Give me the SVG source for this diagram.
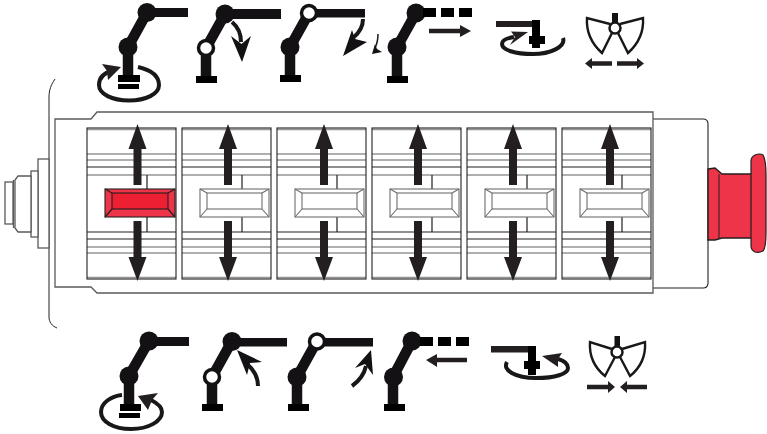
<svg xmlns="http://www.w3.org/2000/svg" width="767" height="434" viewBox="0 0 767 434">
<style>
.k{fill:#131114}
.b{fill:#000}
.lk{stroke:#131114;stroke-width:10.500;fill:none}
.j{fill:#fff;stroke:#131114;stroke-width:3.5}
.arc{fill:none;stroke:#1a1718;stroke-width:4}
.sa{fill:none;stroke:#231f20;stroke-width:4.5}
.ar{fill:#231f20}
.ol{fill:#fff;stroke:#58595b;stroke-width:1.3}
.ds{fill:none;stroke:#231f20;stroke-width:1.2}
.gr{fill:none;stroke:#939598;stroke-width:1.5}
.claw{fill:#fff;stroke:#1a1718;stroke-width:2.4;stroke-linejoin:miter}
.sw{fill:#fff;stroke:#6d6e71;stroke-width:1.1}
.swr{fill:#ee3448;stroke:#231f20;stroke-width:1.1}
.rb{fill:#ee3448;stroke:#231f20;stroke-width:1.4}
</style>
<defs>
<g id="mod">
<rect x="0" y="0" width="89" height="151" fill="#fff"/>
<path class="gr" d="M0 1.500H89M0 26H89M0 32H89M0 47H89M0 119H89M0 125H89M0 149.500H89"/>
<path class="ds" d="M0 39H89M0 104H89M0 111H89M60 47V61M60 89V104"/>
<rect x="0" y="0" width="89" height="151" fill="none" stroke="#231f20" stroke-width="1.1"/>
</g>
<g id="updown">
<path class="ar" d="M0 -4L9 21H4V57H-4V21H-9Z"/>
<path class="ar" d="M0 153L-9 129H-4V93H4V129H9Z"/>
</g>
<g id="sw">
<rect class="sw" x="0" y="0" width="69" height="28"/>
<rect class="sw" x="7" y="4" width="55" height="16"/>
<path class="sw" d="M0 0L7 4M69 0L62 4M0 28L7 20M69 28L62 20"/>
</g>
<g id="base"><rect class="b" x="-10.500" y="0" width="21" height="7"/></g>
</defs>

<g id="chassis">
<path d="M55 79C51 85 49 90 49 97V317C49 322 52 326 57 328" fill="none" stroke="#231f20" stroke-width="1"/>
<rect class="ol" x="38" y="159" width="11" height="89"/>
<rect class="ol" x="31" y="171" width="7" height="66" stroke="#231f20"/>
<path class="ol" d="M31 176H18L15 180V228L18 232H31Z"/>
<path class="ol" d="M13.500 180V228"/>
<rect class="ol" x="5" y="182" width="8" height="42"/>
<path d="M653 119H703Q708 119 708 124V283Q708 288 703 288H653" fill="#fff" stroke="#231f20" stroke-width="1.1"/>
<path class="ol" d="M55 119H91L97 112H653V293H97L91 287H55Z"/>
</g>

<g id="switch-1">
<use href="#mod" x="87" y="128"/>
<rect class="swr" x="105" y="189" width="70" height="28"/>
<rect x="112" y="193" width="56" height="16" fill="#ed1f33" stroke="#231f20" stroke-width="1.1"/>
<path class="ds" d="M105 189L112 193M175 189L168 193M105 217L112 209M175 217L168 209"/>
<use href="#updown" x="137.500" y="128"/>
</g>
<g id="switch-2"><use href="#mod" x="182" y="128"/><use href="#sw" x="200" y="189"/><use href="#updown" x="228" y="128"/></g>
<g id="switch-3"><use href="#mod" x="277" y="128"/><use href="#sw" x="295" y="189"/><use href="#updown" x="324" y="128"/></g>
<g id="switch-4"><use href="#mod" x="372" y="128"/><use href="#sw" x="390" y="189"/><use href="#updown" x="418" y="128"/></g>
<g id="switch-5"><use href="#mod" x="467" y="128"/><use href="#sw" x="485" y="189"/><use href="#updown" x="513" y="128"/></g>
<g id="switch-6"><use href="#mod" x="562" y="128"/><use href="#sw" x="580" y="189"/><use href="#updown" x="610" y="128"/></g>

<g id="estop">
<path class="rb" d="M708 169L715 168L722 174H752V238H722L715 240H708Z"/>
<path d="M719 174V238" fill="none" stroke="#231f20" stroke-width="1"/>
<path d="M751 161Q751 157 755 155Q760 153 763 155Q766 160 766 175V232Q766 248 763 251Q759 253 755 252Q751 250 751 246Z" fill="#ee3448" stroke="#231f20" stroke-width="1.200"/>
</g>

<g id="icon-top-1">
<path class="arc" d="M138 67C151 70 159 76 159 85C159 94 146 100.500 129 100.500C112 100.500 99 94 99 85C99 78 104 73 112 71"/>
<path class="ar" d="M121 67L102 64L107 71L108 80Z"/>
<path class="lk" d="M147 12.500L128 47V76"/>
<rect class="k" x="147" y="8" width="41" height="9"/>
<circle class="k" cx="147" cy="12.500" r="9.500"/><circle class="k" cx="128" cy="47" r="9.500"/>
<rect class="b" x="118" y="75" width="22" height="7"/><rect class="b" x="118" y="84" width="21" height="5"/>
</g>
<g id="icon-top-2">
<path class="lk" d="M225 14L206 48V76"/>
<rect class="k" x="225" y="9" width="56" height="10"/>
<circle class="k" cx="225" cy="14" r="9.500"/><circle class="j" cx="206" cy="48" r="7.500"/>
<use href="#base" x="206.500" y="76"/>
<path class="arc" d="M232 22C238 27 241 33 241 42"/>
<path class="k" d="M242 62L231 36L241.500 44L251 36Z"/>
</g>
<g id="icon-top-3">
<path class="lk" d="M309 13L290 47V76"/>
<rect class="k" x="309" y="9" width="56" height="8.500"/>
<circle class="j" cx="309" cy="13" r="7.500"/><circle class="k" cx="290" cy="47" r="9.500"/>
<use href="#base" x="290.500" y="75"/>
<path class="arc" d="M363 19C363 27 359 33 353 38"/>
<path class="k" d="M343 56L352 30L355 39L367 42Z"/>
<path d="M378 34C378 39 377 44 375 48" fill="none" stroke="#1a1718" stroke-width="1.500"/>
<path class="k" d="M372 54L375 44L377 49L382 52Z"/>
</g>
<g id="icon-top-4">
<path class="lk" d="M416 13L397 47V76"/>
<circle class="k" cx="416" cy="13" r="9.500"/><circle class="k" cx="397" cy="47" r="9.500"/>
<rect class="b" x="423" y="8" width="13" height="9"/><rect class="b" x="441" y="8" width="13" height="9"/><rect class="b" x="459" y="8" width="13" height="9"/>
<use href="#base" x="397.500" y="76"/>
<path class="sa" d="M429 31H461"/><path class="ar" d="M471 31L460 25V37Z"/>
</g>
<g id="icon-top-5">
<rect class="ar" x="496" y="21" width="37" height="6"/>
<path class="arc" d="M563 38C566 47 550 54 533 54C515 54 502 50 502 44C502 40 507 38 514 37" stroke-width="2.800"/>
<path class="ar" d="M528 32L511 31.500L515 37L510 45Z"/>
<rect class="b" x="532" y="20" width="8" height="28"/><rect class="b" x="529" y="36" width="16" height="8"/>
</g>
<g id="icon-top-6">
<rect class="k" x="612" y="13" width="6" height="12"/>
<path class="claw" d="M610 24L587 18C586 33 592 44 602 53L612 33"/>
<path class="claw" d="M620 24L643 18C644 33 638 44 628 53L618 33"/>
<circle cx="615" cy="28" r="5.500" fill="#fff" stroke="#1a1718" stroke-width="2.500"/>
<path class="sa" d="M591 63.500H612M617 63.500H638" stroke-width="3.500"/>
<path class="ar" d="M585 63.500L592 58V69ZM644 63.500L637 58V69Z"/>
</g>

<g id="icon-bottom-1">
<path class="arc" d="M122 395C111 396 101 403 101 412C101 422 114 429 131 429C149 429 162 421 162 412C162 407 157 403 151 400"/>
<path class="ar" d="M138 396L158 393L152 400L148 410Z"/>
<path class="lk" d="M149 341L129 376V405"/>
<rect class="k" x="149" y="337" width="40" height="9"/>
<circle class="k" cx="149" cy="341" r="9.500"/><circle class="k" cx="129" cy="376" r="9.500"/>
<rect class="b" x="120" y="404" width="21" height="7"/><rect class="b" x="119" y="413" width="21" height="5"/>
</g>
<g id="icon-bottom-2">
<path class="lk" d="M232 341L212 377V405"/>
<rect class="k" x="232" y="338" width="55" height="8.500"/>
<circle class="k" cx="232" cy="341.500" r="9.500"/><circle class="j" cx="212" cy="377" r="7.500"/>
<use href="#base" x="212.500" y="404"/>
<path class="arc" d="M258 386C258 378 254 370 247 364"/>
<path class="k" d="M237 350L262 362L250 363L247 375Z"/>
</g>
<g id="icon-bottom-3">
<path class="lk" d="M317 341L297 377V405"/>
<rect class="k" x="317" y="338" width="56" height="8.500"/>
<circle class="j" cx="317" cy="341.500" r="7.500"/><circle class="k" cx="297" cy="377" r="9.500"/>
<use href="#base" x="298.500" y="404"/>
<path class="arc" d="M352 386C359 381 364 375 366 366"/>
<path class="k" d="M371 350L355 368L365 364L373 375Z"/>
</g>
<g id="icon-bottom-4">
<path class="lk" d="M412 341L393 377V405"/>
<circle class="k" cx="412" cy="341" r="9.500"/><circle class="k" cx="393.500" cy="377" r="9.500"/>
<rect class="b" x="420" y="337" width="13" height="9"/><rect class="b" x="438" y="337" width="13" height="9"/><rect class="b" x="456" y="337" width="13" height="9"/>
<use href="#base" x="394.500" y="404"/>
<path class="sa" d="M436 360H467"/><path class="ar" d="M426 360L437 354V367Z"/>
</g>
<g id="icon-bottom-5">
<rect class="ar" x="491" y="346" width="37" height="6.500"/>
<path class="arc" d="M507 362C502 370 515 378 536 378C555 378 568 374 568 368C568 364 565 361 558 359" stroke-width="2.800"/>
<path class="ar" d="M542 356L562 353L558 359L558 367Z"/>
<rect class="b" x="528" y="346" width="8" height="29"/><rect class="b" x="524" y="361" width="16" height="8"/>
</g>
<g id="icon-bottom-6">
<rect class="k" x="614.500" y="336" width="5.500" height="12"/>
<path class="claw" d="M612 349L590 342C589 357 595 368 605 376L615 357"/>
<path class="claw" d="M622 349L645 342C646 357 640 368 630 376L620 357"/>
<circle cx="617" cy="352" r="5.500" fill="#fff" stroke="#1a1718" stroke-width="2.500"/>
<path class="sa" d="M587 387H608M626 387H647" stroke-width="3.500"/>
<path class="ar" d="M615 387L608 381V393ZM620 387L627 381V393Z"/>
</g>
</svg>
